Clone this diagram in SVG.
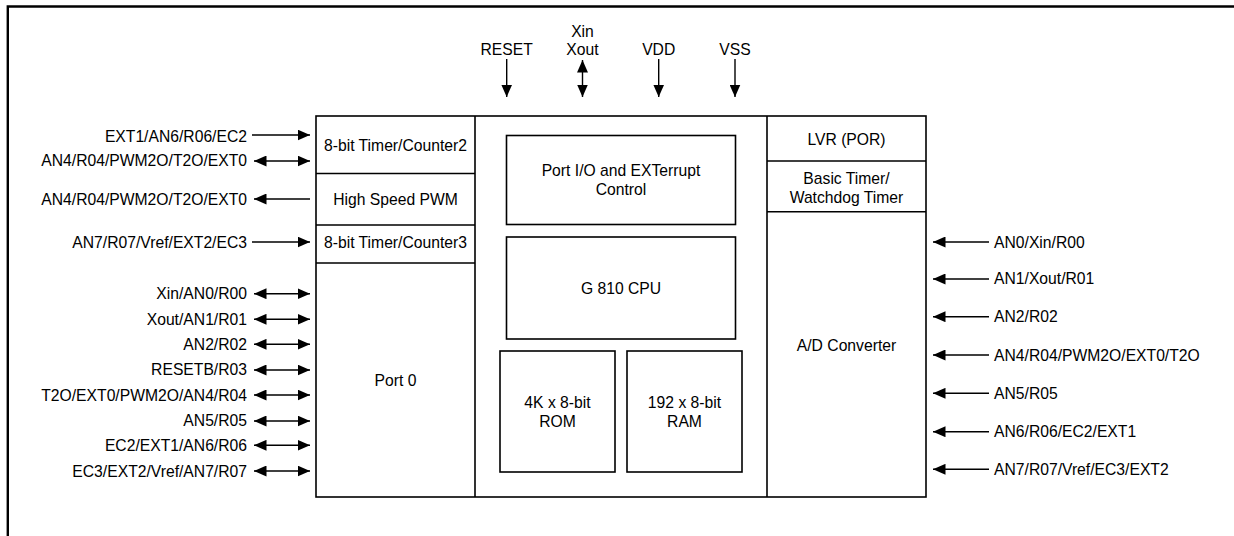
<svg xmlns="http://www.w3.org/2000/svg" width="1234" height="536" viewBox="0 0 1234 536">
<defs>
<style>
text{font-family:"Liberation Sans",Arial,sans-serif;font-size:15.7px;fill:#000}
.e{text-anchor:end}.m{text-anchor:middle}
.box{fill:#fff;stroke:#000;stroke-width:1.6}
.ln{fill:none;stroke:#000;stroke-width:1.6}
.ar{fill:none;stroke:#000;stroke-width:1.4}
.one{marker-end:url(#ah)}
.two{marker-start:url(#ah);marker-end:url(#ah)}
</style>
<marker id="ah" markerUnits="userSpaceOnUse" markerWidth="12.5" markerHeight="11" refX="12.5" refY="5.5" orient="auto-start-reverse" viewBox="0 0 12.5 11"><path d="M0,0 L12.5,5.5 L0,11 z" fill="#000"/></marker>
</defs>
<rect width="1234" height="536" fill="#fff"/>
<path d="M7.8,540 V6.5 H1240" fill="none" stroke="#000" stroke-width="2.4"/>

<g id="chip">
<rect class="box" x="316" y="116" width="610" height="381"/>
<path class="ln" d="M475,116 V497 M767,116 V497 M316,173.5 H475 M316,225 H475 M316,263 H475 M767,161 H926 M767,211.7 H926"/>
</g>
<g id="timer2"><text class="m" x="395.5" y="150.5">8-bit Timer/Counter2</text></g>
<g id="pwm"><text class="m" x="395.5" y="204.5">High Speed PWM</text></g>
<g id="timer3"><text class="m" x="395.5" y="248">8-bit Timer/Counter3</text></g>
<g id="port0"><text class="m" x="395.5" y="386">Port 0</text></g>
<g id="portio"><rect class="box" x="506.5" y="135.5" width="229" height="89"/><text class="m" x="621" y="175.5">Port I/O and EXTerrupt</text><text class="m" x="621" y="194.5">Control</text></g>
<g id="cpu"><rect class="box" x="506.5" y="237" width="229" height="102"/><text class="m" x="621" y="294">G 810 CPU</text></g>
<g id="rom"><rect class="box" x="500" y="351" width="115" height="121"/><text class="m" x="557.5" y="408">4K x 8-bit</text><text class="m" x="557.5" y="426.5">ROM</text></g>
<g id="ram"><rect class="box" x="627" y="351" width="115" height="121"/><text class="m" x="684.5" y="408">192 x 8-bit</text><text class="m" x="684.5" y="426.5">RAM</text></g>
<g id="lvr"><text class="m" x="846.5" y="144.5">LVR (POR)</text></g>
<g id="wdt"><text class="m" x="846.5" y="184">Basic Timer/</text><text class="m" x="846.5" y="202.5">Watchdog Timer</text></g>
<g id="adc"><text class="m" x="846.5" y="350.5">A/D Converter</text></g>

<g id="labels">
<text class="m" x="506.7" y="55">RESET</text>
<text class="m" x="582.5" y="37">Xin</text>
<text class="m" x="582.5" y="55">Xout</text>
<text class="m" x="658.7" y="55">VDD</text>
<text class="m" x="735" y="55">VSS</text>

<text class="e" x="247" y="142">EXT1/AN6/R06/EC2</text>
<text class="e" x="247" y="166">AN4/R04/PWM2O/T2O/EXT0</text>
<text class="e" x="247" y="204.5">AN4/R04/PWM2O/T2O/EXT0</text>
<text class="e" x="247" y="247.5">AN7/R07/Vref/EXT2/EC3</text>
<text class="e" x="247" y="299">Xin/AN0/R00</text>
<text class="e" x="247" y="324.5">Xout/AN1/R01</text>
<text class="e" x="247" y="349.5">AN2/R02</text>
<text class="e" x="247" y="375">RESETB/R03</text>
<text class="e" x="247" y="400.5">T2O/EXT0/PWM2O/AN4/R04</text>
<text class="e" x="247" y="426">AN5/R05</text>
<text class="e" x="247" y="451">EC2/EXT1/AN6/R06</text>
<text class="e" x="247" y="476.5">EC3/EXT2/Vref/AN7/R07</text>

<text x="994" y="247.5">AN0/Xin/R00</text>
<text x="994" y="284">AN1/Xout/R01</text>
<text x="994" y="322">AN2/R02</text>
<text x="994" y="360.5">AN4/R04/PWM2O/EXT0/T2O</text>
<text x="994" y="398.5">AN5/R05</text>
<text x="994" y="437">AN6/R06/EC2/EXT1</text>
<text x="994" y="474.5">AN7/R07/Vref/EC3/EXT2</text>
</g>

<g id="connectors">
<path class="ar one" d="M506.7,59 V97"/>
<path class="ar two" d="M582.5,60 V97"/>
<path class="ar one" d="M658.7,59 V97"/>
<path class="ar one" d="M735,59 V97"/>

<path class="ar one" d="M252,135 H310"/>
<path class="ar two" d="M254,161 H310"/>
<path class="ar one" d="M310,199 H254"/>
<path class="ar one" d="M252,242 H310"/>
<path class="ar two" d="M254,293.7 H310"/>
<path class="ar two" d="M254,319.3 H310"/>
<path class="ar two" d="M254,344.3 H310"/>
<path class="ar two" d="M254,370 H310"/>
<path class="ar two" d="M254,395 H310"/>
<path class="ar two" d="M254,421 H310"/>
<path class="ar two" d="M254,445.3 H310"/>
<path class="ar two" d="M254,471 H310"/>

<path class="ar one" d="M989,242 H933"/>
<path class="ar one" d="M989,279 H933"/>
<path class="ar one" d="M989,316.7 H933"/>
<path class="ar one" d="M989,355 H933"/>
<path class="ar one" d="M989,393.3 H933"/>
<path class="ar one" d="M989,431.7 H933"/>
<path class="ar one" d="M989,469.3 H933"/>
</g>
</svg>
